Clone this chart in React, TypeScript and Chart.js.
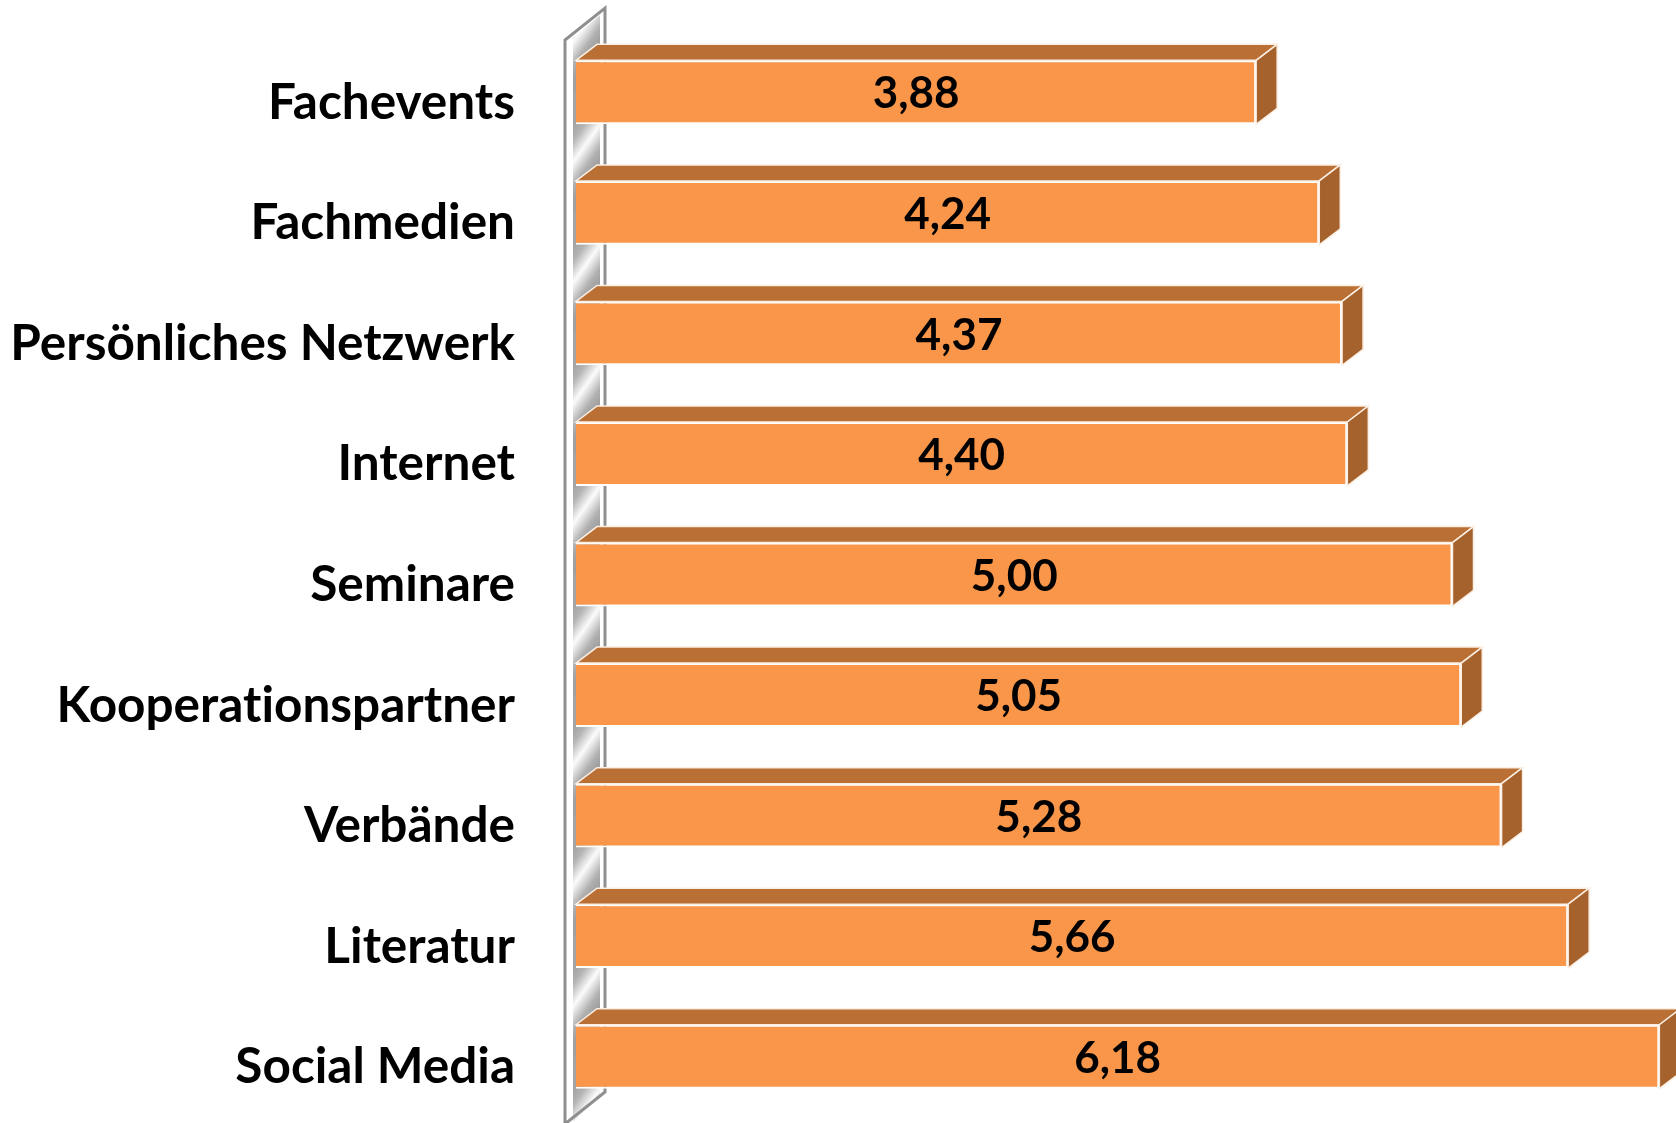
import React, { useEffect, useRef } from "react";
import { Chart, registerables } from "chart.js";

Chart.register(...registerables);

const categories = [
  "Fachevents",
  "Fachmedien",
  "Persönliches Netzwerk",
  "Internet",
  "Seminare",
  "Kooperationspartner",
  "Verbände",
  "Literatur",
  "Social Media",
];
const values = [3.88, 4.24, 4.37, 4.4, 5.0, 5.05, 5.28, 5.66, 6.18];

const FRONT = "#F9964A";
const TOP = "#BA7034";
const SIDE = "#A5622D";
const FONT = "Lato, Carlito, sans-serif";

const DX = 21;
const DY = 16;

const wallPlugin = {
  id: "wall",
  beforeDraw(chart: any) {
    chart.ctx.textRendering = "optimizeSpeed";
    chart.ctx.fontKerning = "normal";
  },
  beforeDatasetsDraw(chart: any) {
    const { ctx, chartArea } = chart;
    const l = chartArea.left - 1;
    const t = chartArea.top;
    const b = chartArea.bottom;
    const meta = chart.getDatasetMeta(0);
    ctx.save();
    const x0 = l - 10;
    const x1 = l - 2;
    const x2 = l + 25;
    const x3 = l + 30;
    const pitch = meta.data[1].y - meta.data[0].y;
    ctx.save();
    ctx.beginPath();
    ctx.moveTo(x1, t + 6);
    ctx.lineTo(x2, t - 17);
    ctx.lineTo(x2, b - 21);
    ctx.lineTo(x1, b + 5);
    ctx.closePath();
    ctx.clip();
    for (let i = -1; i < meta.data.length; i++) {
      const yBar = meta.data[0].y + i * pitch;
      const cx = l + 11;
      const cy = yBar + 52;
      const g = ctx.createLinearGradient(cx - 17, cy - 12, cx + 17, cy + 12);
      g.addColorStop(0, "#a4a4a4");
      g.addColorStop(0.2, "#b4b4b4");
      g.addColorStop(0.5, "#fbfbfb");
      g.addColorStop(0.82, "#b0b0b0");
      g.addColorStop(1, "#a0a0a0");
      ctx.fillStyle = g;
      ctx.fillRect(x1, yBar, x3 - x1, pitch + 1);
    }
    ctx.restore();
    ctx.beginPath();
    ctx.moveTo(x0, b + 7);
    ctx.lineTo(x0, t + 8);
    ctx.lineTo(x3, t - 24);
    ctx.lineTo(x3, b - 25);
    ctx.lineTo(x0, b + 7);
    ctx.strokeStyle = "#8f8f8f";
    ctx.lineWidth = 3;
    ctx.stroke();
    ctx.restore();
  },
};

const box3dPlugin = {
  id: "box3d",
  afterDatasetsDraw(chart: any) {
    const { ctx } = chart;
    const meta = chart.getDatasetMeta(0);
    ctx.save();
    meta.data.forEach((bar: any, i: number) => {
      const l = bar.base;
      const r = bar.x;
      const t = bar.y - bar.height / 2;
      const b = bar.y + bar.height / 2;
      ctx.lineWidth = 1.5;
      ctx.strokeStyle = "#fbeee2";
      ctx.fillStyle = TOP;
      ctx.beginPath();
      ctx.moveTo(l, t);
      ctx.lineTo(l + DX, t - DY);
      ctx.lineTo(r + DX, t - DY);
      ctx.lineTo(r, t);
      ctx.closePath();
      ctx.fill();
      ctx.stroke();
      ctx.fillStyle = SIDE;
      ctx.beginPath();
      ctx.moveTo(r, t);
      ctx.lineTo(r + DX, t - DY);
      ctx.lineTo(r + DX, b - DY);
      ctx.lineTo(r, b);
      ctx.closePath();
      ctx.fill();
      ctx.stroke();
      ctx.fillStyle = "#000";
      ctx.font = `bold 44px ${FONT}`;
      ctx.textAlign = "center";
      ctx.textBaseline = "middle";
      ctx.fillText(values[i].toFixed(2).replace(".", ","), (l + r) / 2, bar.y + 2);
    });
    ctx.restore();
  },
};

export default function App() {
  const ref = useRef<HTMLCanvasElement>(null);
  useEffect(() => {
    const chart = new Chart(ref.current as HTMLCanvasElement, {
      type: "bar",
      data: {
        labels: categories,
        datasets: [
          {
            data: values,
            backgroundColor: FRONT,
            borderColor: "#ffffff",
            borderWidth: 2,
            barPercentage: 0.53,
            categoryPercentage: 1,
          },
        ],
      },
      options: {
        indexAxis: "y",
        animation: false,
        responsive: false,
        layout: { padding: { top: 32, bottom: 6, left: 0, right: 0 } },
        plugins: { legend: { display: false }, tooltip: { enabled: false } },
        scales: {
          x: { display: false, min: 0, max: 6.275 },
          y: {
            afterFit(s: any) {
              s.width = 576;
              s.paddingTop = 0;
              s.paddingBottom = 0;
            },
            grid: { display: false },
            border: { display: false },
            ticks: {
              color: "#000",
              padding: 53,
              labelOffset: 10.5,
              font: { family: FONT, weight: "bold", size: 49.5 },
            },
          },
        },
      },
      plugins: [wallPlugin, box3dPlugin],
    } as any);
    return () => chart.destroy();
  }, []);
  return (
    <canvas
      ref={ref}
      width={1676}
      height={1123}
      style={{ position: "fixed", left: 0, top: 0, width: 1676, height: 1123, background: "#fff" }}
    />
  );
}
